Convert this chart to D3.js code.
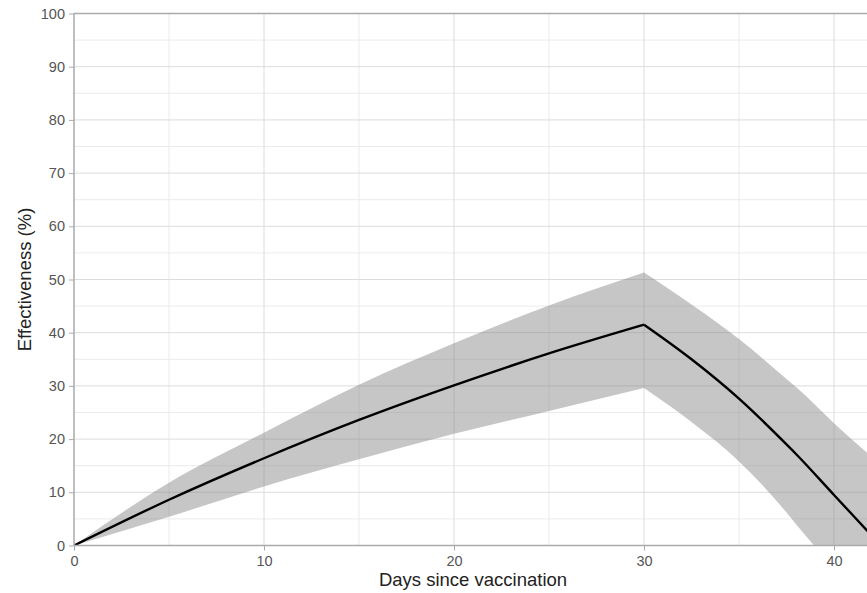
<!DOCTYPE html>
<html>
<head>
<meta charset="utf-8">
<script src="https://cdn.jsdelivr.net/npm/d3@7"></script>
<style>
  body { margin: 0; overflow: hidden; background: #fff; }
  svg { font-family: "Liberation Sans", Arial, sans-serif; }
</style>
</head>
<body>
<div id="chart"></div>
<script>
"use strict";

// values (day, %)
var days  = [0, 5, 10, 15, 20, 25, 30, 32.5, 35, 37.5, 38, 40, 42];
var mean  = [0, 8.6, 16.4, 23.6, 30.1, 36.1, 41.5, 35.0, 27.6, 19.0, 17.2, 9.5, 1.8];
var upper = [0, 11.8, 21.2, 30.2, 38.0, 45.1, 51.3, 45.3, 38.8, 31.3, 29.8, 23.0, 16.6];
var lower = [0, 5.4, 11.1, 16.2, 21.0, 25.3, 29.6, 23.2, 15.8, 6.2, 4.0, -4, -10];

var xTicks = [0, 10, 20, 30, 40];
var yTicks = [0, 10, 20, 30, 40, 50, 60, 70, 80, 90, 100];

var width = 880, height = 593;

var x = d3.scaleLinear().domain([0, 42]).range([74, 872]);
var y = d3.scaleLinear().domain([0, 100]).range([545.5, 13.5]);

var svg = d3.select('#chart')
  .append('svg')
    .attr('width', width)
    .attr('height', height);

svg.append('defs').append('clipPath')
    .attr('id', 'plot')
  .append('rect')
    .attr('x', x(0))
    .attr('y', y(100))
    .attr('width', x(42) - x(0))
    .attr('height', y(0) - y(100));

// minor + major grid
var grid = svg.append('g');
grid.selectAll('.xminor')
  .data(d3.range(5, 42, 10))
  .enter().append('line')
    .attr('x1', x).attr('x2', x)
    .attr('y1', y(0)).attr('y2', y(100))
    .attr('stroke', '#ebebeb');
grid.selectAll('.yminor')
  .data(d3.range(5, 100, 10))
  .enter().append('line')
    .attr('x1', x(0)).attr('x2', x(42))
    .attr('y1', y).attr('y2', y)
    .attr('stroke', '#ebebeb');
grid.selectAll('.xmajor')
  .data(xTicks.slice(1))
  .enter().append('line')
    .attr('x1', x).attr('x2', x)
    .attr('y1', y(0)).attr('y2', y(100))
    .attr('stroke', '#dcdcdc');
grid.selectAll('.ymajor')
  .data(yTicks.slice(1, -1))
  .enter().append('line')
    .attr('x1', x(0)).attr('x2', x(42))
    .attr('y1', y).attr('y2', y)
    .attr('stroke', '#dcdcdc');

var pts = days.map(function (d, i) {
  return { day: d, mean: mean[i], lo: lower[i], hi: upper[i] };
});

var area = d3.area()
  .x(function (d) { return x(d.day); })
  .y0(function (d) { return y(d.lo); })
  .y1(function (d) { return y(d.hi); })
  .curve(d3.curveMonotoneX);

var line = d3.line()
  .x(function (d) { return x(d.day); })
  .y(function (d) { return y(d.mean); })
  .curve(d3.curveMonotoneX);

// curve only within each segment so the peak at day 30 stays sharp
var before = pts.filter(function (d) { return d.day <= 30; });
var after = pts.filter(function (d) { return d.day >= 30; });

var plot = svg.append('g').attr('clip-path', 'url(#plot)');
[before, after].forEach(function (seg) {
  plot.append('path')
    .datum(seg)
    .attr('d', area)
    .attr('fill', 'rgba(128,128,128,0.45)')
    .attr('stroke', 'none');
});
[before, after].forEach(function (seg) {
  plot.append('path')
    .datum(seg)
    .attr('d', line)
    .attr('fill', 'none')
    .attr('stroke', '#000')
    .attr('stroke-width', 2.4)
    .attr('stroke-linejoin', 'miter');
});

// axes
var xAxis = d3.axisBottom(x).tickValues(xTicks).tickSize(5).tickPadding(5);
var yAxis = d3.axisLeft(y).tickValues(yTicks).tickSize(5).tickPadding(4);

var gx = svg.append('g')
  .attr('transform', 'translate(0,' + y(0) + ')')
  .call(xAxis);
var gy = svg.append('g')
  .attr('transform', 'translate(' + x(0) + ',0)')
  .call(yAxis);

[gx, gy].forEach(function (g) {
  g.select('.domain').remove();
  g.selectAll('line').attr('stroke', '#aaa');
  g.selectAll('text')
    .attr('fill', '#555')
    .style('font-size', '14.5px')
    .style('font-family', '"Liberation Sans", Arial, sans-serif');
});

// frame lines (left, bottom, top)
var frame = svg.append('g').attr('stroke', '#aaa').attr('stroke-width', 1.5);
frame.append('line')
  .attr('x1', x(0)).attr('x2', x(0)).attr('y1', y(0)).attr('y2', y(100));
frame.append('line')
  .attr('x1', x(0)).attr('x2', x(42)).attr('y1', y(0)).attr('y2', y(0));
frame.append('line')
  .attr('x1', x(0)).attr('x2', x(42)).attr('y1', y(100)).attr('y2', y(100));

svg.append('text')
  .attr('x', (x(0) + x(42)) / 2)
  .attr('y', 586)
  .attr('text-anchor', 'middle')
  .attr('fill', '#222')
  .style('font-size', '18.5px')
  .text('Days since vaccination');

svg.append('text')
  .attr('transform', 'translate(31,' + y(50) + ') rotate(-90)')
  .attr('text-anchor', 'middle')
  .attr('fill', '#222')
  .style('font-size', '18.5px')
  .text('Effectiveness (%)');
</script>
</body>
</html>
